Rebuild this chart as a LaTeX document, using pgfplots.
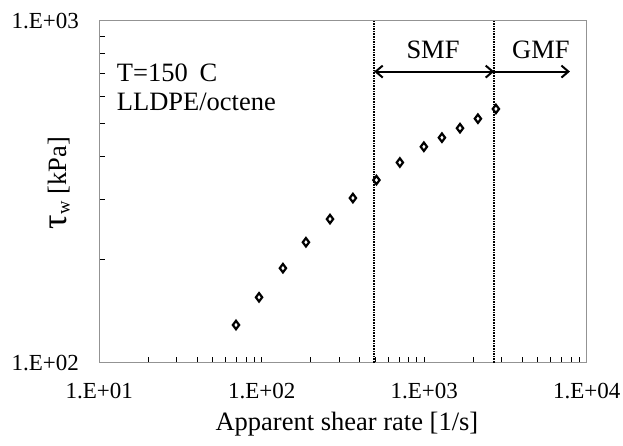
\documentclass[border=0pt]{standalone}
\usepackage{fontspec}
\setmainfont{Liberation Serif}
\usepackage{pgfplots}
\pgfplotsset{compat=1.18}
\usetikzlibrary{arrows.meta}

% wall shear stress vs apparent shear rate
\pgfplotstableread{
x y
69.4 128.9
96.2 155.3
135 189
187 225
263 263
364 303
508 342
708 385
995 428
1285 455
1660 485
2140 517
2762 552
}\flowcurve

\begin{document}
\begin{tikzpicture}
\path[use as bounding box] (-99.3pt,-82.3pt) rectangle (523.7pt,362.7pt);
\begin{axis}[
    scale only axis,
    width=487.4pt, height=342pt,
    xmode=log, ymode=log,
    xmin=10, xmax=10000,
    ymin=100, ymax=1000,
    axis line style={draw=gray!85, line width=1pt},
    tick style={black, line width=0.9pt},
    tick align=inside,
    xtick pos=bottom, ytick pos=left,
    major tick length=6pt, minor tick length=6pt,
    xtick={10,100,1000,10000},
    xticklabels={1.E+01,1.E+02,1.E+03,1.E+04},
    ytick={100,1000},
    yticklabels={1.E+02,1.E+03},
    tick label style={font=\fontsize{23}{24}\selectfont},
    xticklabel style={anchor=base, inner sep=0pt, yshift=-35.6pt},
    yticklabel style={anchor=east, inner sep=0pt, xshift=-20.3pt},
    xlabel={Apparent shear rate [1/s]},
    ylabel={{\fontsize{36}{36}\selectfont τ}\textsubscript{w} [kPa]},
    label style={font=\fontsize{26.5}{28}\selectfont},
    xlabel style={at={(axis description cs:0.508,-0.197)}, anchor=base, inner sep=0pt},
    ylabel style={at={(axis description cs:-0.0683,0.525)}, anchor=base, inner sep=0pt},
    clip=false,
]
\addplot[only marks, mark=diamond*, mark size=4.2pt, line width=2.2pt,
    mark options={fill=white, draw=black, line width=2.2pt}]
    table[x=x, y=y] {\flowcurve};

% flow regime boundaries
\addplot[black, densely dotted, line width=1.6pt] coordinates {(492,100) (492,1000)};
\addplot[black, densely dotted, line width=1.6pt] coordinates {(2697,100) (2697,1000)};

\draw[black, line width=2pt, {Straight Barb[length=7pt,width=12pt]}-{Straight Barb[length=7pt,width=12pt]}]
    (axis cs:492,710) -- (axis cs:2697,710);
\draw[black, line width=2pt, -{Straight Barb[length=7pt,width=12pt]}]
    (axis cs:2697,710) -- (axis cs:7888,710);

\node[anchor=base, inner sep=0pt, font=\fontsize{26.5}{28}\selectfont]
    at (axis description cs:0.6847,0.890) {SMF};
\node[anchor=base, inner sep=0pt, font=\fontsize{26.5}{28}\selectfont]
    at (axis description cs:0.9059,0.890) {GMF};

\node[anchor=base west, inner sep=0pt, font=\fontsize{26.5}{28}\selectfont]
    at (axis description cs:0.0357,0.8216) {T=150\hspace{0.45em}C};
\node[anchor=base west, inner sep=0pt, font=\fontsize{26.5}{28}\selectfont]
    at (axis description cs:0.0357,0.737) {LLDPE/octene};
\end{axis}
\end{tikzpicture}
\end{document}
